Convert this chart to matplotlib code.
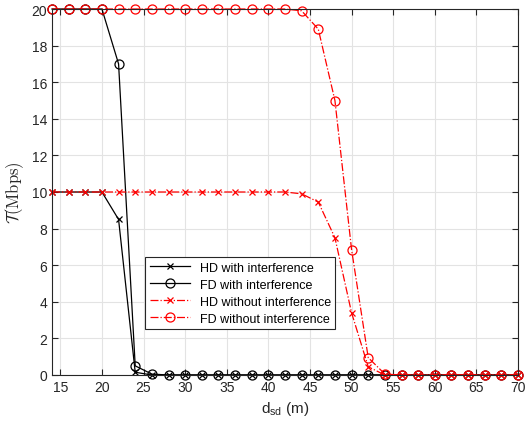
import numpy as np
import matplotlib
matplotlib.use("Agg")
import matplotlib.pyplot as plt

plt.rcParams['font.family'] = ['Liberation Sans', 'DejaVu Sans']
plt.rcParams['mathtext.fontset'] = 'cm'
plt.rcParams['mathtext.rm'] = 'Liberation Sans'

# distance d_sd (m)
d_sd = list(range(14, 71, 2))

# throughput (Mbps)
hd_with = [10, 10, 10, 10, 8.5, 0.15, 0.0] + [0.0] * 22
fd_with = [20, 20, 20, 20, 17.0, 0.5, 0.05] + [0.0] * 22
hd_without = [10] * 15 + [9.9, 9.45, 7.5, 3.4, 0.45, 0.0] + [0.0] * 8
fd_without = [20] * 15 + [19.9, 18.9, 15.0, 6.85, 0.95, 0.05] + [0.0] * 8

labels = ['HD with interference', 'FD with interference',
          'HD without interference', 'FD without interference']

fig = plt.figure(figsize=(5.28, 4.27), dpi=100)
ax = fig.add_axes([52/528, 51/427, 466/528, 366/427])

ax.plot(d_sd, hd_with, color='k', lw=0.9, marker='x', ms=5, mew=0.9, label=labels[0], clip_on=False)
ax.plot(d_sd, fd_with, color='k', lw=0.9, marker='o', ms=6.5, mfc='none', mew=0.9, label=labels[1], clip_on=False)
ax.plot(d_sd, hd_without, color='r', lw=0.9, ls='-.', marker='x', ms=5, mew=0.9, label=labels[2], clip_on=False)
ax.plot(d_sd, fd_without, color='r', lw=0.9, ls='-.', marker='o', ms=6.5, mfc='none', mew=0.9, label=labels[3], clip_on=False)

ax.set_xlim(14, 70)
ax.set_ylim(0, 20)
ax.set_xticks(range(15, 71, 5))
ax.set_yticks(range(0, 21, 2))
ax.grid(True, color='#e3e3e3', lw=0.8)
ax.set_axisbelow(True)
ax.tick_params(direction='in', top=True, right=True, labelsize=10, colors='#262626', length=4)
for s in ax.spines.values():
    s.set_color('#262626')
    s.set_linewidth(0.8)

ax.set_xlabel(r'd$_{\mathrm{sd}}$ (m)', fontsize=11, color='#262626', math_fontfamily='custom')
ax.set_ylabel(r'$\mathcal{T}(\mathrm{Mbps})$', fontsize=12, color='#262626', math_fontfamily='cm')

leg = ax.legend(loc='lower left', bbox_to_anchor=(0.187, 0.108), fontsize=9,
                fancybox=False, edgecolor='#262626', framealpha=1,
                handlelength=3.2, borderpad=0.35, labelspacing=0.4)
leg.get_frame().set_linewidth(0.8)

fig.savefig('out.png', dpi=100)
